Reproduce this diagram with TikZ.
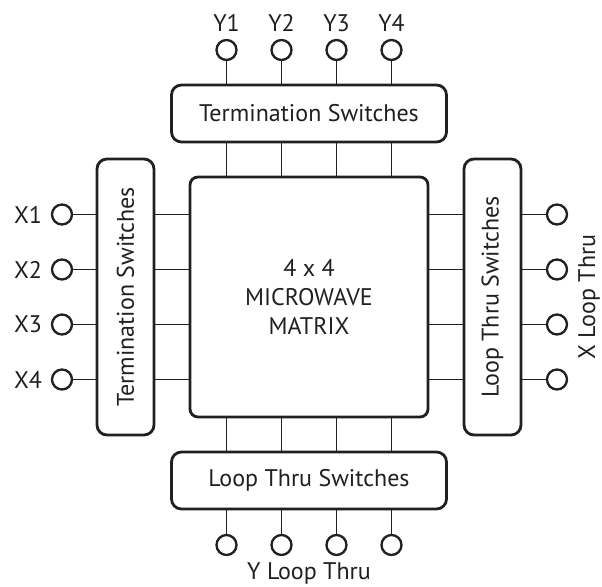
\documentclass[tikz,border=0pt]{standalone}
\usepackage{fontspec}
\setmainfont{PT Sans}
\definecolor{ink}{HTML}{231F20}
\begin{document}
\begin{tikzpicture}[x=0.03cm,y=0.03cm,node distance=5.505cm]
	\tikzstyle{block} = [rectangle, draw=ink, text=ink, line width=2.4pt, fill=white, rounded corners=0.3cm, minimum width=8.25cm, minimum height=1.71cm, inner sep=0pt, font=\fontsize{20.5}{24.5}\selectfont];
	\tikzstyle{port} = [circle, draw=ink, line width=2pt, minimum size=0.6cm, inner sep=0pt];
	\tikzstyle{wire} = [draw=ink, line width=1.3pt];
	\tikzstyle{lbl} = [text=ink, font=\fontsize{20.5}{24.5}\selectfont, inner sep=0pt];
	\useasboundingbox (-309,-290) rectangle (293,297);

	\node [block, minimum width=7.14cm, minimum height=7.2cm, rounded corners=0.24cm, align=center] (mat) {4 x 4\\MICROWAVE\\MATRIX};
	\node [block, above of=mat] (ysw) {Termination Switches};
	\node [block, below of=mat] (ylsw) {Loop Thru Switches};
	\node [block, left of=mat, minimum width=1.71cm, minimum height=8.28cm] (xsw) {\rotatebox{90}{Termination Switches}};
	\node [block, right of=mat, minimum width=1.71cm, minimum height=8.28cm] (xlsw) {\rotatebox{90}{Loop Thru Switches}};

	\foreach \i/\p in {1/-82.5,2/-27.5,3/27.5,4/82.5} {
		\node [port] (y\i) at (\p,247) {};
		\node [lbl] (ly\i) at (\p,274) {Y\i};
		\node [port] (yl\i) at (\p,-248) {};
		\draw [wire] (y\i) -- (y\i |- ysw.north);
		\draw [wire] (y\i |- ysw.south) -- (y\i |- mat.north);
		\draw [wire] (yl\i) -- (yl\i |- ylsw.south);
		\draw [wire] (yl\i |- ylsw.north) -- (yl\i |- mat.south);
	}
	\foreach \i/\p in {1/82.5,2/27.5,3/-27.5,4/-82.5} {
		\node [port] (x\i) at (-247,\p) {};
		\node [lbl] (lx\i) at (-281,\p) {X\i};
		\node [port] (xl\i) at (248,\p) {};
		\draw [wire] (x\i) -- (x\i -| xsw.west);
		\draw [wire] (x\i -| xsw.east) -- (x\i -| mat.west);
		\draw [wire] (xl\i) -- (xl\i -| xlsw.east);
		\draw [wire] (xl\i -| xlsw.west) -- (xl\i -| mat.east);
	}
	\node [lbl, rotate=90] (xloop) at (280,0) {X Loop Thru};
	\node [lbl] (yloop) at (0,-276) {Y Loop Thru};
\end{tikzpicture}
\end{document}
